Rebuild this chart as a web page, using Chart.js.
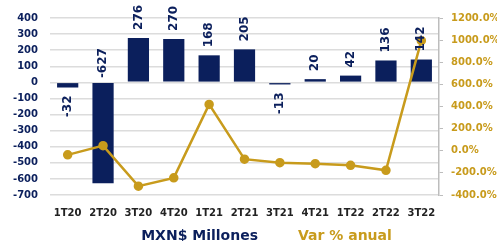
<!DOCTYPE html>
<html lang="es">
<head>
<meta charset="UTF-8">
<title>MXN$ Millones y Var % anual</title>
<script src="https://cdn.jsdelivr.net/npm/chart.js"></script>
<style>
  html, body { margin: 0; padding: 0; background: #fff; }
  #wrap { width: 497px; height: 241px; }
</style>
</head>
<body>
<div id="wrap"><canvas id="grafica"></canvas></div>
<script>
// datos
const trimestres = ['1T20', '2T20', '3T20', '4T20', '1T21', '2T21', '3T21', '4T21', '1T22', '2T22', '3T22'];
const millones = [-32, -627, 276, 270, 168, 205, -13, 20, 42, 136, 142];
const varAnual = [-37, 46, -320, -245, 419, -76, -108, -117, -132, -177, 995];

const azul = '#0b1f5c';
const oro = '#c89b1c';
const fuente = 'DejaVu Sans';

// etiquetas verticales sobre las barras
const etiquetasBarras = {
  id: 'etiquetasBarras',
  afterDatasetsDraw(chart) {
    const meta = chart.getDatasetMeta(0);
    const ctx = chart.ctx;
    const area = chart.chartArea;
    ctx.save();
    ctx.font = 'bold 12px "' + fuente + '"';
    ctx.fillStyle = azul;
    ctx.textBaseline = 'middle';
    meta.data.forEach((bar, i) => {
      const v = millones[i];
      const txt = String(v);
      const w = ctx.measureText(txt).width;
      let y, align;
      if (v >= 0) {
        y = bar.y - 8; align = 'left';
      } else if (bar.y + 8 + w > area.bottom) {
        y = bar.base - 5; align = 'left';
      } else {
        y = bar.y + 8; align = 'right';
      }
      ctx.save();
      ctx.translate(bar.x, y);
      ctx.rotate(-Math.PI / 2);
      ctx.textAlign = align;
      ctx.fillText(txt, 0, 0);
      ctx.restore();
    });
    ctx.restore();
  }
};

const ctx = document.getElementById('grafica').getContext('2d');
new Chart(ctx, {
  data: {
    labels: trimestres,
    datasets: [
      {
        type: 'bar',
        label: 'MXN$ Millones',
        data: millones,
        backgroundColor: azul,
        yAxisID: 'y',
        categoryPercentage: 1,
        barPercentage: 0.6,
        order: 2
      },
      {
        type: 'line',
        label: 'Var % anual',
        data: varAnual,
        borderColor: oro,
        backgroundColor: oro,
        borderWidth: 2.5,
        pointRadius: 3.5,
        pointHoverRadius: 3.5,
        tension: 0,
        yAxisID: 'y1',
        order: 1
      }
    ]
  },
  options: {
    responsive: true,
    maintainAspectRatio: false,
    animation: false,
    layout: { padding: { top: 16, bottom: 0, left: 0, right: 0 } },
    plugins: {
      tooltip: { enabled: false },
      legend: {
        position: 'bottom',
        maxHeight: 16,
        labels: {
          boxWidth: 29,
          boxHeight: 0,
          padding: 4,
          font: { family: fuente, size: 14, weight: 'bold' },
          generateLabels(chart) {
            return chart.data.datasets.map((ds, i) => ({
              text: ds.label,
              fontColor: i === 0 ? azul : oro,
              fillStyle: 'rgba(0,0,0,0)',
              strokeStyle: 'rgba(0,0,0,0)',
              lineWidth: 0,
              datasetIndex: i
            }));
          }
        }
      }
    },
    scales: {
      x: {
        grid: { display: false, drawTicks: false },
        border: { display: false },
        ticks: {
          color: '#222',
          padding: 12,
          font: { family: fuente, size: 10, weight: 'bold' },
          maxRotation: 0
        },
        afterFit(scale) { scale.height = 30; }
      },
      y: {
        position: 'left',
        min: -700,
        max: 400,
        ticks: {
          stepSize: 100,
          color: azul,
          padding: 12,
          font: { family: fuente, size: 10, weight: 'bold' }
        },
        grid: { color: '#dcdcdc', lineWidth: 1.5, drawTicks: false },
        border: { display: false },
        afterFit(scale) { scale.width = 50; }
      },
      y1: {
        position: 'right',
        min: -400,
        max: 1200,
        ticks: {
          stepSize: 200,
          color: oro,
          padding: 8,
          font: { family: fuente, size: 10, weight: 'bold' },
          callback: v => v.toFixed(1) + '%'
        },
        grid: { drawOnChartArea: false, drawTicks: true, tickLength: 4, color: '#bdbdbd' },
        border: { display: true, color: '#bdbdbd', width: 1.5 },
        afterFit(scale) { scale.width = 58; }
      }
    }
  },
  plugins: [etiquetasBarras]
});
</script>
</body>
</html>
